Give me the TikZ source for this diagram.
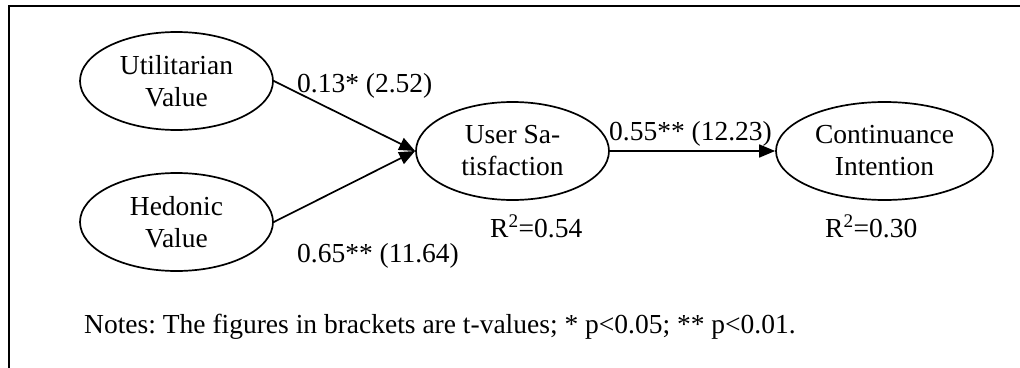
\documentclass[tikz,border=0pt]{standalone}
\usepackage{fontspec}
\setmainfont{Liberation Serif}
\usetikzlibrary{shapes.geometric,arrows.meta}
\tikzset{
  construct/.style={draw, ellipse, line width=1.7pt, inner sep=0pt, minimum height=98pt, align=center, font=\fontsize{27.5}{32}\selectfont},
  path/.style={draw, line width=1.7pt, -{Triangle[length=16pt,width=13pt]}},
  lbl/.style={anchor=base west, inner sep=0pt, font=\fontsize{27.5}{32}\selectfont},
  frame/.style={draw, line width=2.2pt}
}
\frenchspacing
\begin{document}
\begin{tikzpicture}[x=1pt,y=-1pt]
\useasboundingbox (0,0) rectangle (1020,367);
\coordinate (fb) at (9,368);
\coordinate (fc) at (9,6);
\coordinate (fr) at (1021,6);
\draw[frame] (fb) -- (fc) -- (fr);
\node[construct, minimum width=193pt] (uv) at (176.5,81) {Utilitarian\\Value};
\node[construct, minimum width=193pt] (hv) at (176.5,222) {Hedonic\\Value};
\node[construct, minimum width=193pt] (us) at (512.5,151) {User Sa-\\tisfaction};
\node[construct, minimum width=217pt] (ci) at (884.5,151) {Continuance\\Intention};
\draw[path] (uv.east) -- (us.west);
\draw[path] (hv.east) -- (us.west);
\draw[path] (us.east) -- (ci.west);
\node[lbl] (l1) at (297,92) {0.13* (2.52)};
\node[lbl] (l2) at (297,262) {0.65** (11.64)};
\node[lbl] (l3) at (609,140) {0.55** (12.23)};
\node[lbl] (r1) at (490,237) {R\textsuperscript{2}=0.54};
\node[lbl] (r2) at (825,237) {R\textsuperscript{2}=0.30};
\node[lbl] (notes) at (84,333) {\frenchspacing Notes: The figures in brackets are t-values; * p<0.05; ** p<0.01.};
\end{tikzpicture}
\end{document}
